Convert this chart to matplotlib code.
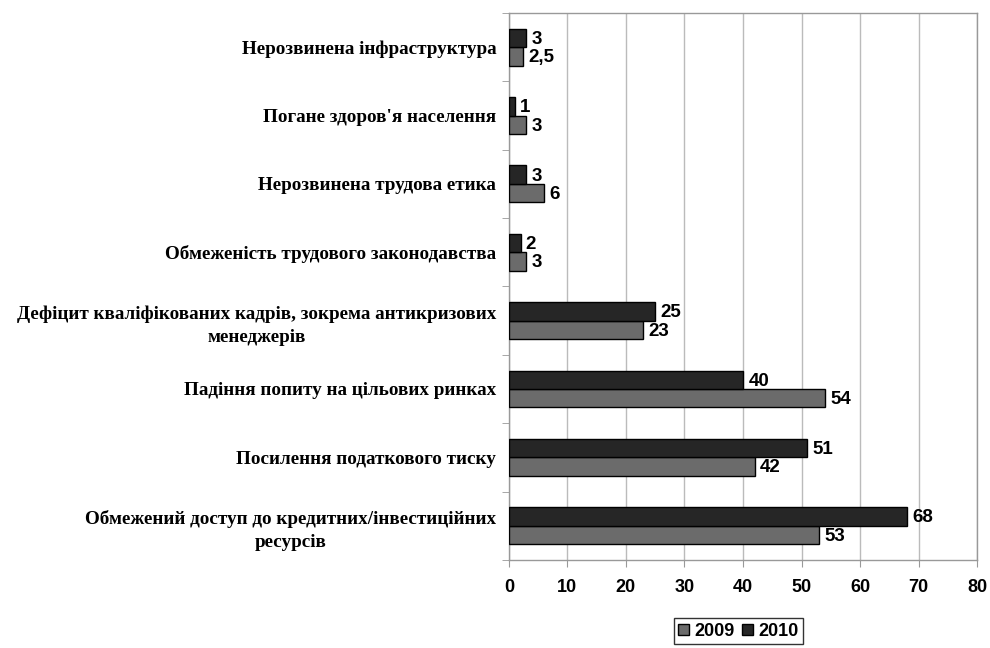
import matplotlib
matplotlib.use("Agg")
import matplotlib.pyplot as plt
import numpy as np

categories = [
    "Нерозвинена інфраструктура",
    "Погане здоров'я населення",
    "Нерозвинена трудова етика",
    "Обмеженість трудового законодавства",
    "Дефіцит кваліфікованих кадрів, зокрема антикризових\nменеджерів",
    "Падіння попиту на цільових ринках",
    "Посилення податкового тиску",
    "Обмежений доступ до кредитних/інвестиційних\nресурсів",
]
values_2009 = [2.5, 3, 6, 3, 23, 54, 42, 53]
values_2010 = [3, 1, 3, 2, 25, 40, 51, 68]
labels_2009 = ["2,5", "3", "6", "3", "23", "54", "42", "53"]
labels_2010 = ["3", "1", "3", "2", "25", "40", "51", "68"]
x_ticks = [0, 10, 20, 30, 40, 50, 60, 70, 80]

fig = plt.figure(figsize=(9.9, 6.48), dpi=100)
ax = fig.add_axes([0.514, 0.136, 0.473, 0.844])

n = len(categories)
y = np.arange(n)
h = 0.27
c09 = "#6b6b6b"
c10 = "#262626"
ax.barh(y + h / 2, values_2009, height=h, color=c09, edgecolor="black", linewidth=1, label="2009", zorder=3)
ax.barh(y - h / 2, values_2010, height=h, color=c10, edgecolor="black", linewidth=1, label="2010", zorder=3)

vfont = dict(family="Liberation Sans", fontsize=13.5, fontweight="bold", color="black")
for i in range(n):
    ax.text(values_2009[i] + 0.9, y[i] + h / 2 + 0.02, labels_2009[i], va="center", ha="left", zorder=4, **vfont)
    ax.text(values_2010[i] + 0.9, y[i] - h / 2 + 0.02, labels_2010[i], va="center", ha="left", zorder=4, **vfont)

ax.set_xlim(0, 80)
ax.set_ylim(n - 0.5, -0.5)
ax.set_xticks(x_ticks)
ax.set_xticklabels([str(t) for t in x_ticks], family="Liberation Sans", fontweight="bold", fontsize=13)
ax.set_yticks(y)
ax.set_yticklabels(categories, family="Liberation Serif", fontweight="bold", fontsize=13.8, linespacing=1.45)
ax.tick_params(axis="y", length=0, pad=9)
ax.set_yticks(np.arange(-0.5, n, 1), minor=True)
ax.tick_params(axis="y", which="minor", length=5, color="#999999")
ax.tick_params(axis="x", length=5, color="#999999", pad=9)
for lab in ax.get_yticklabels():
    lab.set_multialignment("center")

ax.grid(axis="x", color="#bbbbbb", linewidth=1, zorder=0)
for s in ax.spines.values():
    s.set_color("#999999")
    s.set_linewidth(1)

handles, labels = ax.get_legend_handles_labels()
leg = fig.legend(handles, labels, loc="center", bbox_to_anchor=(0.746, 0.026), ncol=2,
                 prop={"family": "Liberation Sans", "weight": "bold", "size": 13},
                 frameon=True, fancybox=False, edgecolor="black", handlelength=0.6, handleheight=0.6,
                 handletextpad=0.3, columnspacing=0.4, borderpad=0.25)
leg.get_frame().set_linewidth(1)

fig.savefig("out.png", dpi=100)
